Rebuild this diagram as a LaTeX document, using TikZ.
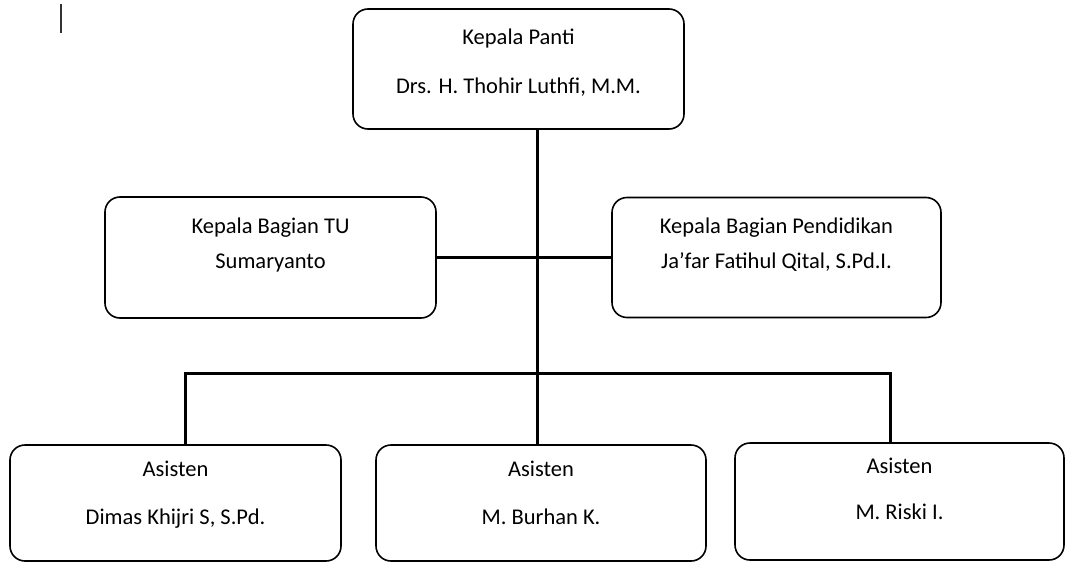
\documentclass[tikz,border=0pt]{standalone}
\usepackage{fontspec}
\setmainfont{Carlito}
\begin{document}
\begin{tikzpicture}[x=1pt,y=-1pt,
  box/.style={draw=black,line width=1.6pt,rounded corners=15pt,inner sep=0pt,fill=white},
  txt/.style={font=\fontsize{22.5}{26}\selectfont,anchor=base,inner sep=0pt},
  conn/.style={draw=black,line width=3pt}]
\useasboundingbox[fill=white] (0,0) rectangle (1070,562);
% stray cursor mark
\draw[draw=black!80,line width=1.5pt] (61,4) -- (61,33);
% boxes
\node[box,minimum width=331pt,minimum height=120pt] (top) at (518.5,69) {};
\node[box,minimum width=331pt,minimum height=121pt] (tu) at (270.5,257.5) {};
\node[box,minimum width=329pt,minimum height=120pt] (pend) at (776.5,257.5) {};
\node[box,minimum width=331pt,minimum height=116pt] (a1) at (175.5,503) {};
\node[box,minimum width=330pt,minimum height=116pt] (a2) at (541,503) {};
\node[box,minimum width=329pt,minimum height=117pt] (a3) at (899.5,501.5) {};
% texts
\node[txt] (t1) at (518.5,44) {Kepala Panti};
\node[txt] (t2) at (518.5,93) {Drs. H. Thohir Luthfi, M.M.};
\node[txt] (tu1) at (270.5,233) {Kepala Bagian TU};
\node[txt] (tu2) at (270.5,268) {Sumaryanto};
\node[txt] (p1) at (776.5,233) {Kepala Bagian Pendidikan};
\node[txt] (p2) at (776.5,268) {Ja’far Fatihul Qital, S.Pd.I.};
\node[txt] (a11) at (175.5,476) {Asisten};
\node[txt] (a12) at (175.5,524) {Dimas Khijri S, S.Pd.};
\node[txt] (a21) at (541,476) {Asisten};
\node[txt] (a22) at (541,524) {M. Burhan K.};
\node[txt] (a31) at (899.5,473) {Asisten};
\node[txt] (a32) at (899.5,519) {M. Riski I.};
% connectors
\coordinate (j2) at (537,373);
\coordinate (d1) at (185,373);
\coordinate (d3) at (890,373);
\draw[conn] (top.south -| j2) -- (j2);
\draw[conn] (tu.east) -- (pend.west);
\draw[conn] (d1 |- a1.north) -- (d1) -- (d3) -- (d3 |- a3.north);
\draw[conn] (j2) -- (j2 |- a2.north);
\end{tikzpicture}
\end{document}
